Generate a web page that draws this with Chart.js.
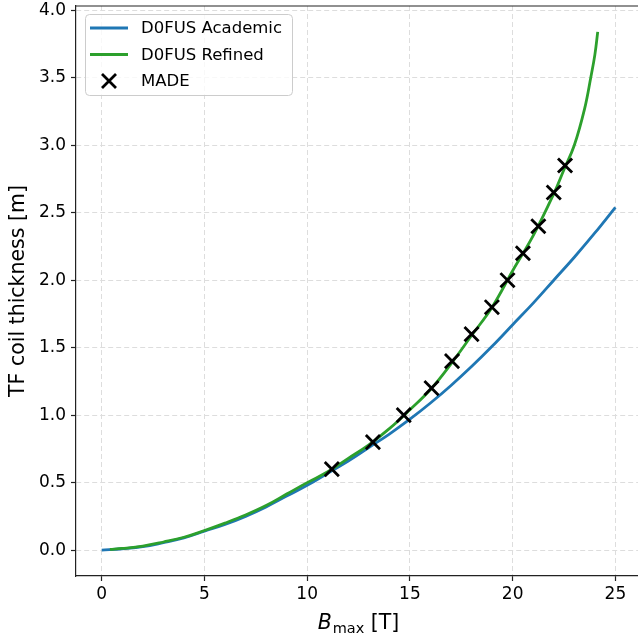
<!DOCTYPE html>
<html>
<head>
<meta charset="utf-8">
<script src="https://cdn.jsdelivr.net/npm/chart.js@4.4.1/dist/chart.umd.min.js"></script>
<style>
html, body { margin: 0; padding: 0; background: #fff; }
</style>
</head>
<body>
<canvas id="chart" width="638" height="643"></canvas>
<script>
// values
var academicB = [0, 1, 2, 3, 4, 5, 6, 7, 8, 9, 10, 11, 12, 13, 14, 15, 16, 17, 18, 19, 20, 21, 22, 23, 24, 25];
var academicT = [0, 0.01, 0.025, 0.055, 0.09, 0.14, 0.19, 0.25, 0.32, 0.40, 0.48, 0.57, 0.66, 0.76, 0.86, 0.97, 1.09, 1.22, 1.36, 1.51, 1.67, 1.83, 2.00, 2.17, 2.35, 2.54];

var refinedB = [0.4, 1, 2, 3, 4, 5, 6, 7, 8, 9, 10, 11, 12, 13, 14, 15, 16, 17, 18, 19, 20, 21, 22, 22.5, 23, 23.5, 23.8, 24, 24.14];
var refinedT = [0.005, 0.012, 0.03, 0.06, 0.095, 0.145, 0.2, 0.26, 0.33, 0.415, 0.50, 0.58, 0.68, 0.78, 0.90, 1.04, 1.19, 1.38, 1.59, 1.80, 2.07, 2.33, 2.64, 2.82, 3.0, 3.27, 3.5, 3.67, 3.84];

var madeB = [11.2, 13.2, 14.7, 16.05, 17.05, 18.0, 18.99, 19.75, 20.5, 21.25, 22.0, 22.55];
var madeT = [0.6, 0.8, 1.0, 1.2, 1.4, 1.6, 1.8, 2.0, 2.2, 2.4, 2.65, 2.85];

var xTicks = [0, 5, 10, 15, 20, 25];
var yTicks = [0, 0.5, 1, 1.5, 2, 2.5, 3, 3.5, 4];

var FONT = "'DejaVu Sans', sans-serif";

function pts(xs, ys) {
	return xs.map(function (x, i) { return {x: x, y: ys[i]}; });
}

var decor = {
	id: 'decor',
	afterDraw: function (chart) {
		var ctx = chart.ctx;
		var a = chart.chartArea;
		ctx.save();

		// top spine
		ctx.strokeStyle = '#222';
		ctx.lineWidth = 1.2;
		ctx.beginPath();
		ctx.moveTo(a.left, a.top);
		ctx.lineTo(a.right, a.top);
		ctx.stroke();

		// y title
		ctx.fillStyle = '#000';
		ctx.save();
		ctx.translate(19, (a.top + a.bottom) / 2);
		ctx.rotate(-Math.PI / 2);
		ctx.font = '20.5px ' + FONT;
		ctx.textAlign = 'center';
		ctx.textBaseline = 'middle';
		ctx.fillText('TF coil thickness [m]', 0, 0);
		ctx.restore();

		// x title: B_max [T]
		var fMain = '20.5px ' + FONT, fIt = 'italic 20.5px ' + FONT, fSub = '14.5px ' + FONT;
		ctx.textAlign = 'left';
		ctx.textBaseline = 'alphabetic';
		ctx.font = fIt; var w1 = ctx.measureText('B').width;
		ctx.font = fSub; var w2 = ctx.measureText('max').width;
		ctx.font = fMain; var w3 = ctx.measureText(' [T]').width;
		var x0 = (a.left + 640) / 2 - (w1 + w2 + w3) / 2;
		var base = 629;
		ctx.font = fIt; ctx.fillText('B', x0, base);
		ctx.font = fSub; ctx.fillText('max', x0 + w1 + 1, base + 4);
		ctx.font = fMain; ctx.fillText(' [T]', x0 + w1 + w2 + 1, base);

		// legend
		var bx = 85.5, by = 14.5, bw = 207, bh = 81;
		ctx.beginPath();
		ctx.roundRect(bx, by, bw, bh, 4);
		ctx.fillStyle = 'rgba(255,255,255,0.8)';
		ctx.fill();
		ctx.strokeStyle = '#cccccc';
		ctx.lineWidth = 1;
		ctx.stroke();

		var rows = [28, 54.5, 81];
		ctx.font = '16.5px ' + FONT;
		ctx.textBaseline = 'middle';
		chart.data.datasets.forEach(function (ds, i) {
			var y = rows[i];
			if (ds.showLine) {
				ctx.strokeStyle = ds.borderColor;
				ctx.lineWidth = ds.borderWidth;
				ctx.beginPath();
				ctx.moveTo(90, y);
				ctx.lineTo(128, y);
				ctx.stroke();
			} else {
				ctx.strokeStyle = ds.pointBorderColor;
				ctx.lineWidth = ds.pointBorderWidth;
				ctx.beginPath();
				ctx.moveTo(102, y - 7); ctx.lineTo(116, y + 7);
				ctx.moveTo(102, y + 7); ctx.lineTo(116, y - 7);
				ctx.stroke();
			}
			ctx.fillStyle = '#000';
			ctx.fillText(ds.label, 141, y + 1);
		});

		ctx.restore();
	}
};

var gridOpts = {
	color: '#dddddd',
	lineWidth: 1,
	tickLength: 5,
	tickColor: '#222',
	tickWidth: 1.2
};

new Chart(document.getElementById('chart').getContext('2d'), {
	type: 'scatter',
	data: {
		datasets: [{
			label: 'D0FUS Academic',
			data: pts(academicB, academicT),
			showLine: true,
			borderColor: '#1f77b4',
			borderWidth: 2.8,
			pointRadius: 0,
			tension: 0.4,
			order: 2
		}, {
			label: 'D0FUS Refined',
			data: pts(refinedB, refinedT),
			showLine: true,
			borderColor: '#2ca02c',
			borderWidth: 2.8,
			pointRadius: 0,
			tension: 0.4,
			order: 1
		}, {
			label: 'MADE',
			data: pts(madeB, madeT),
			showLine: false,
			pointStyle: 'crossRot',
			pointRadius: 10,
			pointBorderColor: '#000',
			pointBorderWidth: 2.8,
			order: 0
		}]
	},
	options: {
		responsive: false,
		devicePixelRatio: 1,
		animation: false,
		layout: { autoPadding: false, padding: { top: 6, right: 0, bottom: 0, left: 0 } },
		plugins: {
			legend: { display: false },
			tooltip: { enabled: false }
		},
		scales: {
			x: {
				type: 'linear',
				min: -1.25,
				max: 26.1,
				afterBuildTicks: function (s) { s.ticks = xTicks.map(function (v) { return {value: v}; }); },
				afterFit: function (s) { s.height = 67; s.paddingLeft = 0; s.paddingRight = 0; },
				ticks: { color: '#000', font: { family: FONT, size: 17 }, padding: 3, maxRotation: 0 },
				grid: gridOpts,
				border: { color: '#222', width: 1.2, dash: [5, 3] }
			},
			y: {
				type: 'linear',
				min: -0.192,
				max: 4.032,
				afterBuildTicks: function (s) { s.ticks = yTicks.map(function (v) { return {value: v}; }); },
				afterFit: function (s) { s.width = 76; s.paddingTop = 0; s.paddingBottom = 0; },
				ticks: {
					color: '#000', font: { family: FONT, size: 17 }, padding: 5,
					callback: function (v) { return v.toFixed(1); }
				},
				grid: gridOpts,
				border: { color: '#222', width: 1.2, dash: [5, 3] }
			}
		}
	},
	plugins: [decor]
});
</script>
</body>
</html>
